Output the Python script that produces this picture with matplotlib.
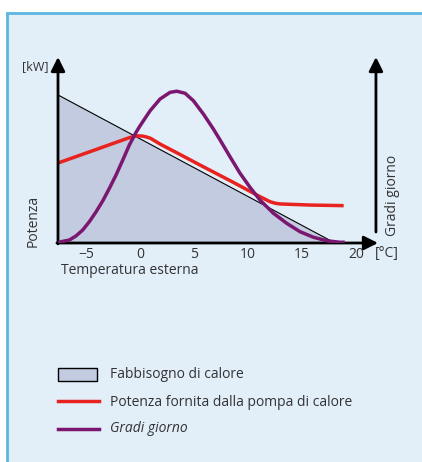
import numpy as np
import matplotlib
matplotlib.use('Agg')
from matplotlib import pyplot as plt
from matplotlib.patches import Rectangle
from matplotlib.lines import Line2D

plt.rcParams['font.family'] = ['Open Sans', 'DejaVu Sans']

# 数据：温度 (°C) 与 功率 / 度日 (相对单位)
fab_x = [-7.6, 18.05]
fab_y = [79.6, 0.0]

pompa_x = [-7.6, -1.0, -0.6, -0.2, 0.2, 0.6, 1.0, 1.85, 3.7, 5.56, 8.64, 11.11,
           12.04, 12.5, 12.96, 15.74, 18.7]
pompa_y = [43.0, 56.6, 57.3, 57.6, 57.5, 57.0, 56.2, 53.2, 47.6, 41.9, 32.6, 24.9,
           22.2, 21.4, 21.0, 20.4, 20.1]

gradi_x = [-7.6, -7.31, -6.55, -5.93, -5.31, -4.69, -4.07, -3.45, -2.84, -2.22,
           -1.6, -0.99, -0.37, 0.0, 0.93, 1.85, 2.78, 3.4, 4.17, 4.94,
           5.86, 6.79, 7.41, 8.33, 9.26, 10.19, 11.11, 12.35, 13.58, 14.81,
           16.05, 17.29, 18.52, 18.8]
gradi_y = [0.0, 0.7, 1.6, 3.8, 7.0, 11.5, 16.8, 22.7, 29.4, 36.6,
           44.6, 52.7, 59.5, 63.0, 71.1, 77.4, 81.0, 81.6, 80.5, 76.5,
           69.4, 61.3, 55.4, 46.4, 37.5, 29.9, 23.1, 16.0, 10.6, 6.1,
           3.1, 1.2, 0.4, 0.4]

xticks = [-5, 0, 5, 10, 15, 20]

labels = ['Fabbisogno di calore', 'Potenza fornita dalla pompa di calore', 'Gradi giorno']

c_fill = '#c2cbe0'
c_red = '#e8231f'
c_purple = '#7b1770'
c_bg = '#e2eef8'
c_border = '#5bb5e1'
c_text = '#333333'

W, H = 422, 462
fig = plt.figure(figsize=(W / 100, H / 100), dpi=100)

# 背景框
bg = fig.add_axes([0, 0, 1, 1])
bg.set_xlim(0, W)
bg.set_ylim(H, 0)
bg.axis('off')
bg.add_patch(Rectangle((7, 13), W + 10, H + 10, facecolor=c_bg, edgecolor=c_border, lw=2))

# 主图
ax = fig.add_axes([58 / W, 1 - 243 / H, 320 / W, 186 / H])
ax.set_facecolor('none')
ax.set_xlim(-7.6, 22.04)
ax.set_ylim(0, 100)
for s in ax.spines.values():
    s.set_visible(False)

ax.fill_between([-7.6] + fab_x, [0] + fab_y, 0, color=c_fill, lw=0, zorder=1)
ax.plot(fab_x, fab_y, color='black', lw=0.8, zorder=2)
ax.plot(pompa_x, pompa_y, color=c_red, lw=2.5, solid_joinstyle='round', zorder=3)
ax.plot(gradi_x, gradi_y, color=c_purple, lw=2.5, solid_joinstyle='round', zorder=4)

# 坐标轴箭头
arr = dict(arrowstyle='-|>,head_length=0.7,head_width=0.35', color='black', lw=2,
           mutation_scale=12, shrinkA=0, shrinkB=0)
ax.annotate('', xy=(22.04, 0), xytext=(-7.7, 0), arrowprops=arr, annotation_clip=False)
ax.annotate('', xy=(-7.6, 100), xytext=(-7.6, -0.5), arrowprops=arr, annotation_clip=False)
ax.annotate('', xy=(21.85, 100), xytext=(21.85, 5.9), arrowprops=arr, annotation_clip=False)

ax.set_xticks(xticks)
ax.set_xticklabels(['\u2212' + str(-t) if t < 0 else str(t) for t in xticks])
ax.set_yticks([])
ax.tick_params(axis='x', length=0, pad=3, labelsize=10, labelcolor=c_text)

# 文字
fs = 10
bg.text(22, 67, '[kW]', fontsize=9, color=c_text, va='center', ha='left')
bg.text(33, 247, 'Potenza', fontsize=fs, color=c_text, rotation=90, va='bottom', ha='center')
bg.text(393, 236, 'Gradi giorno', fontsize=fs, color=c_text, rotation=90, va='bottom', ha='center')
bg.text(375, 254, '[°C]', fontsize=fs, color=c_text, va='center', ha='left')
bg.text(61, 270, 'Temperatura esterna', fontsize=fs, color=c_text, va='center', ha='left')

# 图例
bg.add_patch(Rectangle((58, 368), 39, 13, facecolor=c_fill, edgecolor='black', lw=1))
bg.add_line(Line2D([58, 99], [401, 401], color=c_red, lw=2.5))
bg.add_line(Line2D([58, 99], [429, 429], color=c_purple, lw=2.5))
bg.text(110, 374, labels[0], fontsize=fs, color=c_text, va='center', ha='left')
bg.text(110, 402, labels[1], fontsize=fs, color=c_text, va='center', ha='left')
bg.text(110, 429, labels[2], fontsize=fs, color=c_text, va='center', ha='left', style='italic')

fig.savefig('out.png', dpi=100)
